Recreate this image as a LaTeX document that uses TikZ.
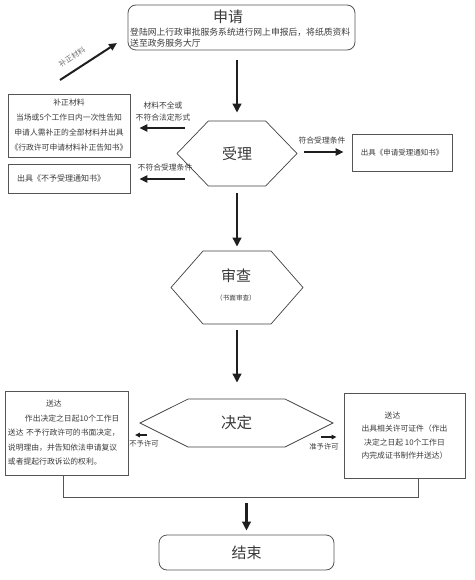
\documentclass[tikz,border=0pt]{standalone}
\usepackage{fontspec}
\setmainfont{Noto Sans CJK SC}
\usetikzlibrary{arrows.meta,shapes.symbols,calc}
\definecolor{boxgray}{HTML}{555555}
\definecolor{txtgray}{HTML}{3A3A3A}
\begin{document}
\begin{tikzpicture}[x=1pt,y=-1pt,
  boxnode/.style={draw=boxgray, line width=0.8pt, inner sep=0pt, text=txtgray},
  hexnode/.style={signal, signal to=west and east, draw=black!75, line width=0.7pt, inner sep=0pt, text=txtgray},
  titletxt/.style={font=\fontsize{15}{18}\selectfont, text=txtgray},
  bigarrow/.style={draw=black!88, line width=2.3pt, -{Triangle[length=9pt,width=8.5pt]}},
  midarrow/.style={draw=black!88, line width=2pt, -{Triangle[length=8pt,width=7pt]}},
  tinyarrow/.style={draw=black!88, line width=1.4pt, -{Triangle[length=5pt,width=4.5pt]}},
  joinline/.style={draw=boxgray, line width=0.8pt}
]
\useasboundingbox (0,0) rectangle (474,580);

% top box
\node[boxnode, rounded corners=8pt, minimum width=227pt, minimum height=45pt] (sq) at (241.5,27.5) {};
\node[titletxt] (sqt) at (228,17) {申请};
\node[font=\fontsize{8.8}{11.5}\selectfont, text=txtgray, align=left, anchor=west, inner sep=0pt] (sqb) at (130,37.5)
  {登陆网上行政审批服务系统进行网上申报后，将纸质资料\\送至政务服务大厅};

% acceptance hexagon
\node[hexnode, minimum width=120pt, minimum height=65pt, signal pointer angle=92, font=\fontsize{15}{18}\selectfont] (sl) at (237,153.5) {受理};

% left boxes
\node[boxnode, minimum width=122pt, minimum height=63pt, align=center, font=\fontsize{7.8}{15}\selectfont] (bz) at (69,125.5)
  {补正材料\\当场或5个工作日内一次性告知\\申请人需补正的全部材料并出具\\《行政许可申请材料补正告知书》};
\node[boxnode, minimum width=122pt, minimum height=29pt, text width=104pt, align=left, font=\fontsize{8}{10}\selectfont] (bn) at (69,178.5)
  {出具《不予受理通知书》};

% right box
\node[boxnode, minimum width=100pt, minimum height=37pt, font=\fontsize{7.5}{10}\selectfont] (br) at (402,152.5)
  {出具《申请受理通知书》};

% review hexagon
\node[hexnode, minimum width=132pt, minimum height=73pt, signal pointer angle=97.5] (sc) at (237,287.5) {};
\node[titletxt] (sct) at (236,276) {审查};
\node[font=\fontsize{6.6}{8}\selectfont, text=txtgray] (scs) at (236,298) {（书面审查）};

% decision hexagon
\node[hexnode, minimum width=193pt, minimum height=48pt, signal pointer angle=53.1, font=\fontsize{15.5}{18}\selectfont] (sd) at (236.5,423) {决定};

% bottom boxes
\node[boxnode, minimum width=123pt, minimum height=84pt, text width=118pt, align=left, font=\fontsize{7.8}{14.5}\selectfont] (bl) at (67,433)
  {\hspace*{38pt}送达\\\hspace*{17pt}作出决定之日起10个工作日\\送达~不予行政许可的书面决定，\\说明理由，并告知依法申请复议\\或者提起行政诉讼的权利。};
\node[boxnode, minimum width=121pt, minimum height=85pt, align=center, font=\fontsize{7.8}{13.5}\selectfont] (bq) at (404.5,435.5)
  {\hspace*{-24pt}送达\\出具相关许可证件（作出\\决定之日起 10个工作日\\内完成证书制作并送达）};

% end box
\node[boxnode, rounded corners=8pt, minimum width=175pt, minimum height=35pt, font=\fontsize{15}{18}\selectfont] (en) at (246.5,552.5) {结束};

% coordinates for free ends
\coordinate (d1) at (60,80);
\coordinate (d2) at (117,43);
\coordinate (a1) at (185,128);
\coordinate (a2) at (185,179);
\coordinate (a3) at (304,152);
\coordinate (a4) at (147,435);
\coordinate (a5) at (321,437);
\coordinate (jl) at (63,497);
\coordinate (jr) at (418,497);

% connectors
\draw[bigarrow, shorten <=10pt, shorten >=8pt] (sq.south -| sl.north) -- (sl.north);
\draw[bigarrow, shorten <=7pt, shorten >=4pt] (sl.south) -- (sl.south |- sc.north);
\draw[bigarrow, shorten <=6pt, shorten >=16pt] (sc.south) -- (sc.south |- sd.north);
\draw[midarrow] (d1) -- (d2);
\draw[midarrow, shorten >=9pt] (a1) -- (a1 -| bz.east);
\draw[midarrow, shorten >=9pt] (a2) -- (a2 -| bn.east);
\draw[midarrow, shorten >=8pt] (a3) -- (a3 -| br.west);
\draw[tinyarrow, shorten >=6pt] (a4) -- (a4 -| bl.east);
\draw[tinyarrow, shorten >=7pt] (a5) -- (a5 -| bq.west);
\draw[joinline] (bl.south -| jl) -- (jl) -- (jr) -- (jr |- bq.south);
\draw[bigarrow, shorten <=6pt, shorten >=4pt] (en.north |- jl) -- (en.north);

% labels
\node[font=\fontsize{7.5}{9}\selectfont, text=black!55, rotate=34] (lbz) at (72,57) {补正材料};
\node[font=\fontsize{7.8}{12}\selectfont, text=txtgray, align=center] (l1) at (163,112) {材料不全或\\不符合法定形式};
\node[font=\fontsize{7.8}{10}\selectfont, text=txtgray] (l2) at (165,168) {不符合受理条件};
\node[font=\fontsize{7.8}{10}\selectfont, text=txtgray] (l3) at (322,141) {符合受理条件};
\node[font=\fontsize{7.3}{10}\selectfont, text=txtgray] (l4) at (144,444) {不予许可};
\node[font=\fontsize{7.3}{10}\selectfont, text=txtgray] (l5) at (324,447) {准予许可};
\end{tikzpicture}
\end{document}
